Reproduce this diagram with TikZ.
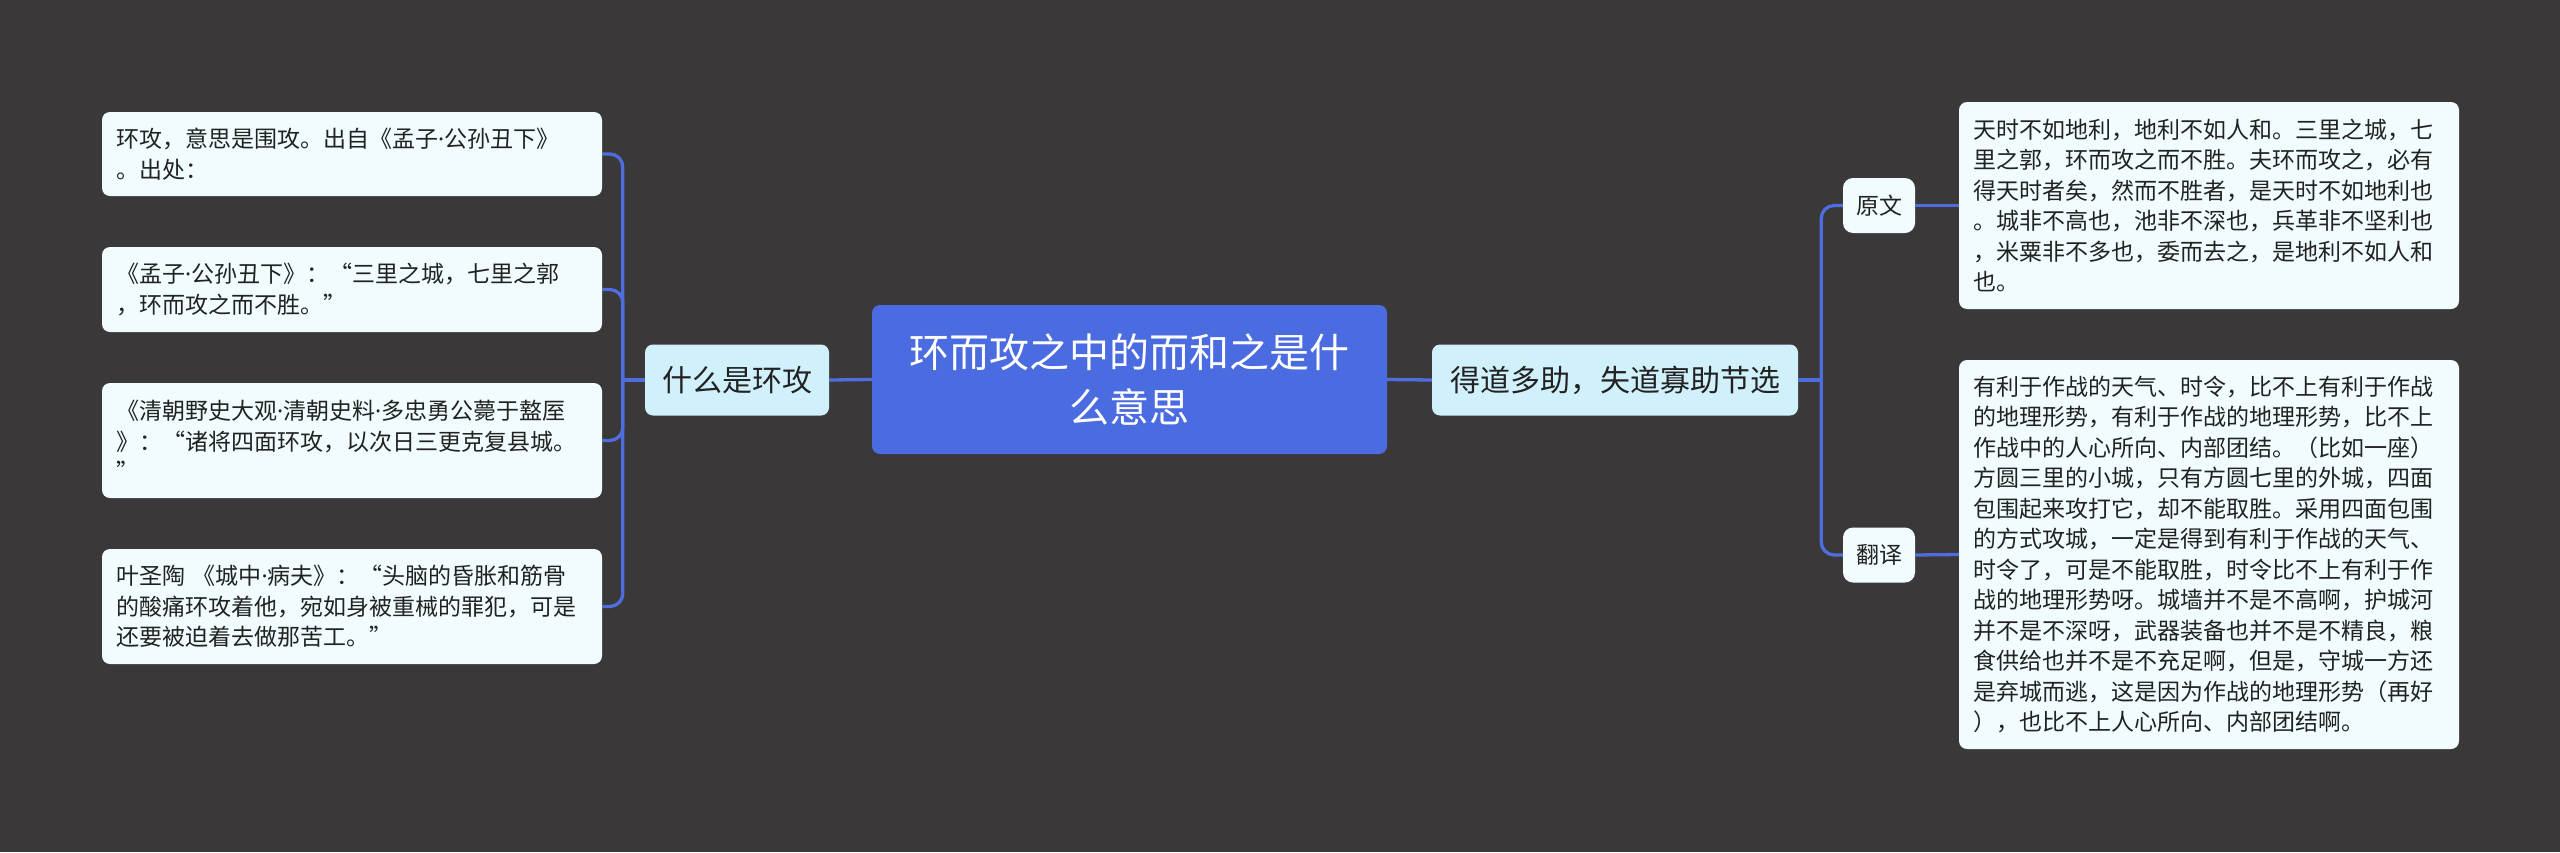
\documentclass[tikz,border=0pt]{standalone}
\usepackage{fontspec}
\setmainfont{Noto Sans CJK SC}
\newfontfamily\latinfont{Noto Sans}
\newcommand{\mdot}{{\latinfont ·}}
\usetikzlibrary{positioning}
\definecolor{backdrop}{HTML}{3A3839}
\definecolor{rootblue}{HTML}{4B6BE0}
\definecolor{linkblue}{HTML}{4E6EDF}
\definecolor{branchfill}{HTML}{D0F0FC}
\definecolor{leaffill}{HTML}{F0FCFE}
\definecolor{inkgray}{HTML}{222222}

\begin{document}
\begin{tikzpicture}[x=1pt, y=-1pt,
    root/.style={fill=rootblue, rounded corners=8pt, inner sep=0pt, align=center,
      text=white, font=\fontsize{40}{55}\selectfont},
    branch/.style={fill=branchfill, rounded corners=8pt, inner sep=0pt, minimum height=71pt,
      text=inkgray, font=\fontsize{30}{36}\selectfont},
    tag/.style={fill=leaffill, rounded corners=10pt, inner sep=0pt, minimum width=72pt,
      minimum height=55pt, text=inkgray, font=\fontsize{23}{28}\selectfont},
    leaf/.style={fill=leaffill, rounded corners=8pt, inner xsep=14pt, inner ysep=0pt,
      text width=472pt, align=left, text=inkgray, font=\fontsize{23}{30.5}\selectfont},
    link/.style={draw=linkblue, line width=3.3pt, rounded corners=13pt}]

      % Background
      \fill[backdrop] (0,0) rectangle (2560,852);

      % Central topic and its two branches
      \node[root, minimum width=515pt, minimum height=149pt] (root) at (1129.5,379.5)
        {环而攻之中的而和之是什\\么意思};
      \node[branch, minimum width=184pt] (whatis) at (737,380) {什么是环攻};
      \node[branch, minimum width=366pt] (dedao) at (1615,380) {得道多助，失道寡助节选};

      % Left leaves
      \node[leaf, minimum height=84pt] (srcA) at (352,154)
        {环攻，意思是围攻。出自《孟子\mdot 公孙丑下》\\。出处：};
      \node[leaf, minimum height=85pt] (srcB) at (352,289.5)
        {《孟子\mdot 公孙丑下》：“三里之城，七里之郭\\，环而攻之而不胜。”};
      \node[leaf, minimum height=115pt] (srcC) at (352,440.5)
        {《清朝野史大观\mdot 清朝史料\mdot 多忠勇公薨于盩厔\\》：“诸将四面环攻，以次日三更克复县城。\\”};
      \node[leaf, minimum height=115pt] (srcD) at (352,606.5)
        {叶圣陶 《城中\mdot 病夫》：“头脑的昏胀和筋骨\\的酸痛环攻着他，宛如身被重械的罪犯，可是\\还要被迫着去做那苦工。”};

      % Right tags and leaves
      \node[tag] (yuanwen) at (1879,205.5) {原文};
      \node[tag] (fanyi) at (1879,555) {翻译};
      \node[leaf, minimum height=207pt] (origtext) at (2209,205.5)
        {天时不如地利，地利不如人和。三里之城，七\\里之郭，环而攻之而不胜。夫环而攻之，必有\\得天时者矣，然而不胜者，是天时不如地利也\\。城非不高也，池非不深也，兵革非不坚利也\\，米粟非不多也，委而去之，是地利不如人和\\也。};
      \node[leaf, minimum height=389pt] (transtext) at (2209,554.5)
        {有利于作战的天气、时令，比不上有利于作战\\的地理形势，有利于作战的地理形势，比不上\\作战中的人心所向、内部团结。（比如一座）\\方圆三里的小城，只有方圆七里的外城，四面\\包围起来攻打它，却不能取胜。采用四面包围\\的方式攻城，一定是得到有利于作战的天气、\\时令了，可是不能取胜，时令比不上有利于作\\战的地理形势呀。城墙并不是不高啊，护城河\\并不是不深呀，武器装备也并不是不精良，粮\\食供给也并不是不充足啊，但是，守城一方还\\是弃城而逃，这是因为作战的地理形势（再好\\），也比不上人心所向、内部团结啊。};

      % Connectors from the centre
      \draw[link] (root.west) -- (whatis.east);
      \draw[link] (root.east) -- (dedao.west);

      % Left trunk
      \coordinate (ltrunk) at ([xshift=-22pt]whatis.west);
      \draw[link] (whatis.west) -- (ltrunk);
      \draw[link] (srcA.east) -| (ltrunk) |- (srcD.east);
      \draw[link] (srcB.east) -| (ltrunk);
      \draw[link] (srcC.east) -| (ltrunk);

      % Right trunk
      \coordinate (rtrunk) at ([xshift=23pt]dedao.east);
      \draw[link] (dedao.east) -- (rtrunk);
      \draw[link] (yuanwen.west) -| (rtrunk) |- (fanyi.west);
      \draw[link] (yuanwen.east) -- (origtext.west);
      \draw[link] (fanyi.east) -- (transtext.west);
\end{tikzpicture}
\end{document}
